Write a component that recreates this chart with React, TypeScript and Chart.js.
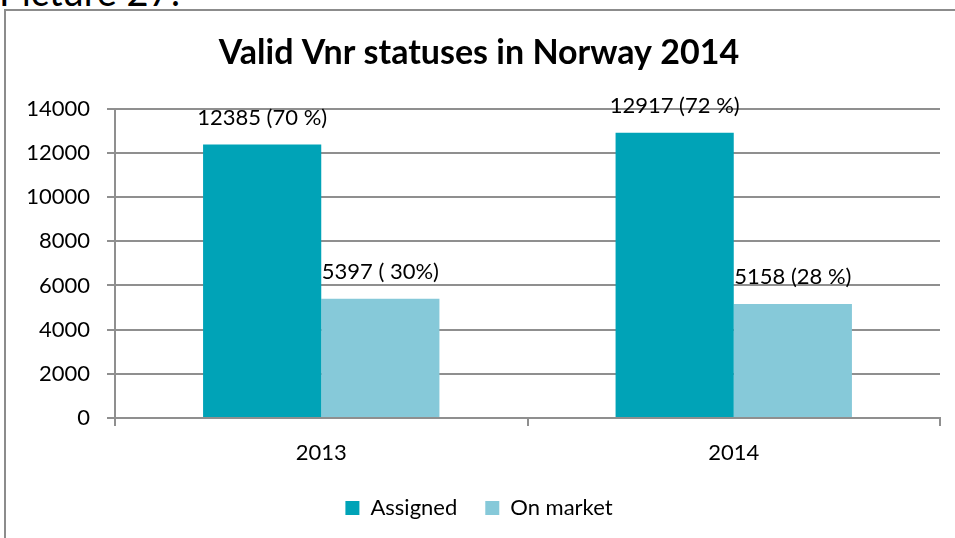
import React, { useEffect, useRef } from "react";
import { Chart, registerables } from "chart.js";

Chart.register(...registerables);

const categories = ["2013", "2014"];
const assigned = [12385, 12917];
const onMarket = [5397, 5158];
const assignedLabels = ["12385 (70 %)", "12917 (72 %)"];
const onMarketLabels = ["5397 ( 30%)", "5158 (28 %)"];
const yTicks = [0, 2000, 4000, 6000, 8000, 10000, 12000, 14000];
const seriesNames = ["Assigned", "On market"];

const FONT = "Lato, 'Open Sans', sans-serif";
const GRID = "#8f8f8f";

const barLabelPlugin = {
  id: "barLabels",
  afterDatasetsDraw(chart: any) {
    const ctx = chart.ctx;
    const texts = [assignedLabels, onMarketLabels];
    ctx.save();
    ctx.font = `22px ${FONT}`;
    ctx.fillStyle = "#000";
    ctx.textAlign = "center";
    ctx.textBaseline = "middle";
    chart.data.datasets.forEach((_: any, di: number) => {
      const meta = chart.getDatasetMeta(di);
      meta.data.forEach((bar: any, i: number) => {
        ctx.fillText(texts[di][i], bar.x, bar.y - 27);
      });
    });
    ctx.restore();
  },
};

export default function App() {
  const ref = useRef<HTMLCanvasElement | null>(null);
  useEffect(() => {
    if (!ref.current) return;
    const chart = new Chart(ref.current, {
      type: "bar",
      data: {
        labels: categories,
        datasets: [
          {
            label: seriesNames[0],
            data: assigned,
            backgroundColor: "#00a3b7",
            categoryPercentage: 0.573,
            barPercentage: 1,
          },
          {
            label: seriesNames[1],
            data: onMarket,
            backgroundColor: "#86c9d9",
            categoryPercentage: 0.573,
            barPercentage: 1,
          },
        ],
      },
      options: {
        animation: false,
        responsive: false,
        maintainAspectRatio: false,
        layout: { padding: { left: 18, right: 15, top: 0, bottom: 9 } },
        plugins: {
          title: {
            display: true,
            text: "Valid Vnr statuses in Norway 2014",
            color: "#000",
            font: { family: FONT, size: 34, weight: "bold" },
            padding: { top: 33, bottom: 35 },
          },
          legend: {
            position: "bottom",
            labels: {
              color: "#000",
              font: { family: FONT, size: 22 },
              boxWidth: 14,
              boxHeight: 14,
              padding: 28,
            },
          },
          tooltip: { enabled: false },
        },
        scales: {
          x: {
            grid: {
              display: true,
              drawOnChartArea: false,
              drawTicks: true,
              tickLength: 8,
              color: GRID,
              lineWidth: 2,
            },
            border: { display: true, color: GRID, width: 2 },
            ticks: {
              color: "#000",
              font: { family: FONT, size: 22 },
              padding: 14,
            },
            afterFit(scale: any) {
              scale.height = 51;
            },
          },
          y: {
            min: 0,
            max: 14000,
            afterBuildTicks(scale: any) {
              scale.ticks = yTicks.map((v) => ({ value: v }));
            },
            grid: {
              color: GRID,
              lineWidth: 2,
              tickLength: 8,
            },
            border: { display: true, color: GRID, width: 2 },
            ticks: {
              color: "#000",
              font: { family: FONT, size: 22 },
              padding: 17,
              callback: (v: any) => String(v),
            },
            afterFit(scale: any) {
              scale.width = 97;
            },
          },
        },
      },
      plugins: [barLabelPlugin],
    });
    return () => chart.destroy();
  }, []);

  return (
    <div
      style={{
        position: "absolute",
        left: 0,
        top: 0,
        width: 955,
        height: 538,
        overflow: "hidden",
        background: "#fff",
      }}
    >
      <div
        style={{
          position: "absolute",
          left: -1,
          top: -28,
          fontFamily: FONT,
          fontSize: 38,
          lineHeight: "38px",
          color: "#000",
          whiteSpace: "nowrap",
        }}
      >
        Picture 27:
      </div>
      <div
        style={{
          position: "absolute",
          left: 4,
          top: 9,
          width: 1000,
          height: 600,
          border: "2px solid #8c8c8c",
          boxSizing: "border-box",
        }}
      />
      <canvas
        ref={ref}
        width={955}
        height={538}
        style={{ position: "absolute", left: 0, top: 0, width: 955, height: 538 }}
      />
    </div>
  );
}
